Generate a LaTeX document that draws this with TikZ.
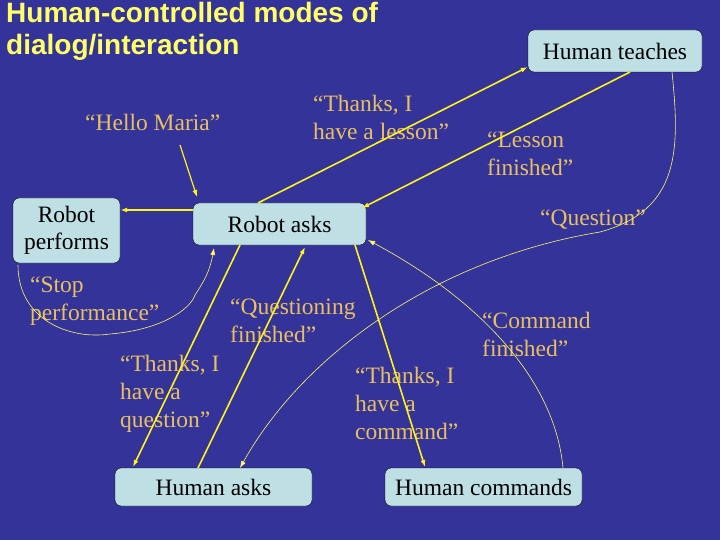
\documentclass[tikz,border=0pt]{standalone}
\usepackage{fontspec}
\setmainfont{Liberation Serif}
\newfontfamily\arial{Liberation Sans}
\usetikzlibrary{arrows.meta}
\definecolor{bg}{HTML}{333399}
\definecolor{boxc}{HTML}{BEE0E4}
\definecolor{lab}{HTML}{E8C060}
\definecolor{ttl}{HTML}{FFFF66}
\begin{document}
\begin{tikzpicture}[x=1pt,y=-1pt,
  box/.style={draw=black,fill=boxc,rounded corners=6pt,font=\fontsize{23.5}{27}\selectfont,align=center,inner sep=0pt},
  lbl/.style={text=lab,font=\fontsize{23.5}{28}\selectfont,align=left,anchor=north west,inner sep=0pt},
  thick arr/.style={draw=yellow!90!white,line width=1.6pt,-{Latex[length=7pt,width=5pt]}},
  thin arr/.style={draw=yellow!60!white,line width=0.6pt,-{Latex[length=7pt,width=5pt]}}]
\fill[bg] (0,0) rectangle (720,540);
\useasboundingbox (0,0) rectangle (720,540);
% title
\node[anchor=north west,inner sep=0pt,align=left,text=ttl,font=\arial\bfseries\fontsize{28}{32}\selectfont] (title) at (6,2) {Human-controlled modes of\\dialog/interaction};
% boxes
\node[box,minimum width=107,minimum height=65] (rp) at (66.5,230.5) {Robot\\performs};
\node[box,minimum width=173,minimum height=42] (ra) at (279.5,224) {Robot asks};
\node[box,minimum width=174,minimum height=42] (ht) at (615,51) {Human teaches};
\node[box,minimum width=197,minimum height=38] (ha) at (213.5,487) {Human asks};
\node[box,minimum width=197,minimum height=38] (hc) at (483.5,487) {Human commands};
% labels
\node[lbl] (l1) at (85,114) {“Hello Maria”};
\node[lbl] (l2) at (313,95) {“Thanks, I\\have a lesson”};
\node[lbl] (l3) at (487,132) {“Lesson\\finished”};
\node[lbl] (l4) at (540,210) {“Question”};
\node[lbl] (l5) at (30,277) {“Stop\\performance”};
\node[lbl] (l6) at (230,299) {“Questioning\\finished”};
\node[lbl] (l7) at (482,312) {“Command\\finished”};
\node[lbl] (l8) at (120,355) {“Thanks, I\\have a\\question”};
\node[lbl] (l9) at (355,367) {“Thanks, I\\have a\\command”};
% connectors
\coordinate (hm) at (180,145);
\draw[thick arr,line width=1.2pt] (hm) -- (197,197);
\draw[thick arr] (ra.west |- 0,210) -- (rp.east |- 0,210);
\draw[thick arr] (258,203) -- (ht.west |- 0,67);
\draw[thick arr] (630,72) -- (362,208);
\draw[thick arr] (240,245) -- (133,467);
\draw[thick arr] (198,468) -- (305,247);
\draw[thick arr] (355,245) -- (425,467);
\draw[thin arr] (672,72) .. controls (680,150) and (680,210) .. (600,232) .. controls (430,260) and (300,360) .. (240,468);
\draw[thin arr] (563,468) .. controls (555,380) and (480,300) .. (368,240);
\draw[thin arr] (18,265) .. controls (18,320) and (70,340) .. (110,334) .. controls (160,330) and (190,310) .. (195,295) .. controls (205,280) and (210,270) .. (214,248);
\end{tikzpicture}
\end{document}
